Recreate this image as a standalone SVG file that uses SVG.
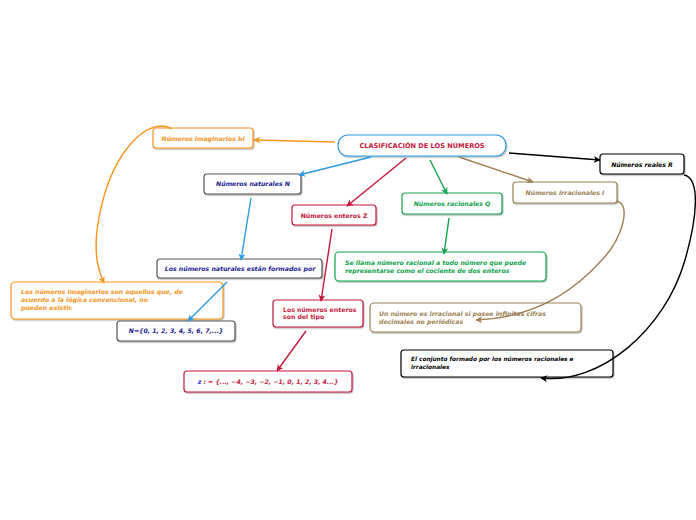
<svg xmlns="http://www.w3.org/2000/svg" width="696" height="520" viewBox="0 0 696 520">
<defs>
<filter id="sh" x="-10%" y="-20%" width="120%" height="150%">
<feDropShadow dx="0.8" dy="1.2" stdDeviation="0.6" flood-color="#000" flood-opacity="0.3"/>
</filter>
<marker id="aOr" viewBox="0 0 10 10" refX="9" refY="5" markerWidth="7" markerHeight="7" markerUnits="userSpaceOnUse" orient="auto"><path d="M0,0 L10,5 L0,10 L3,5 Z" fill="#f7941d"/></marker>
<marker id="aBl" viewBox="0 0 10 10" refX="9" refY="5" markerWidth="7" markerHeight="7" markerUnits="userSpaceOnUse" orient="auto"><path d="M0,0 L10,5 L0,10 L3,5 Z" fill="#2b9be0"/></marker>
<marker id="aCr" viewBox="0 0 10 10" refX="9" refY="5" markerWidth="7" markerHeight="7" markerUnits="userSpaceOnUse" orient="auto"><path d="M0,0 L10,5 L0,10 L3,5 Z" fill="#c4173b"/></marker>
<marker id="aGr" viewBox="0 0 10 10" refX="9" refY="5" markerWidth="7" markerHeight="7" markerUnits="userSpaceOnUse" orient="auto"><path d="M0,0 L10,5 L0,10 L3,5 Z" fill="#0ea34c"/></marker>
<marker id="aTn" viewBox="0 0 10 10" refX="9" refY="5" markerWidth="7" markerHeight="7" markerUnits="userSpaceOnUse" orient="auto"><path d="M0,0 L10,5 L0,10 L3,5 Z" fill="#9c8156"/></marker>
<marker id="aBk" viewBox="0 0 10 10" refX="9" refY="5" markerWidth="7" markerHeight="7" markerUnits="userSpaceOnUse" orient="auto"><path d="M0,0 L10,5 L0,10 L3,5 Z" fill="#000"/></marker>
</defs>
<style>
rect{fill:#fff;stroke-width:1.2;filter:url(#sh)}
text{font-family:"DejaVu Sans",Verdana,sans-serif;font-weight:bold;font-size:6.2px}
.it{font-style:italic}
.c{text-anchor:middle}
.or rect{stroke:#f7941d}.or text{fill:#f7941d}
.gy rect{stroke:#555}.gy text{fill:#1c1c8f}
.cr rect{stroke:#c4173b}.cr text{fill:#c4173b}
.gr rect{stroke:#0ea34c}.gr text{fill:#0ea34c}
.tn rect{stroke:#9c8156}.tn text{fill:#9c8156}
.bk rect{stroke:#000}.bk text{fill:#000}
#conn path{fill:none;stroke-width:1.4}
</style>
<g id="root">
<rect x="338" y="135" width="168" height="21" rx="10" style="stroke:#2b9be0"/>
<text x="422" y="148.3" class="c" style="fill:#c4173b;font-size:6.6px">CLASIFICACIÓN DE LOS NÚMEROS</text>
</g>
<g id="imaginarios" class="or">
<rect x="153" y="128" width="100" height="20" rx="3"/>
<text x="203" y="140.5" class="c it">Números imaginarios bi</text>
</g>
<g id="naturales" class="gy">
<rect x="204" y="174" width="97" height="20" rx="3"/>
<text x="253" y="186.3" class="c it">Números naturales N</text>
</g>
<g id="enteros" class="cr">
<rect x="292" y="205" width="84" height="20" rx="3"/>
<text x="334" y="217.5" class="c">Números enteros Z</text>
</g>
<g id="racionales" class="gr">
<rect x="402" y="193" width="100" height="21" rx="3"/>
<text x="452" y="206" class="c it">Números racionales Q</text>
</g>
<g id="irracionales" class="tn">
<rect x="513" y="182" width="104" height="21" rx="3"/>
<text x="565" y="194.5" class="c it">Números irracionales I</text>
</g>
<g id="reales" class="bk">
<rect x="600" y="154" width="84" height="20" rx="3"/>
<text x="642" y="166.5" class="c it">Números reales R</text>
</g>
<g id="formados" class="gy">
<rect x="157" y="259" width="165" height="19" rx="3"/>
<text x="240" y="270.8" class="c it">Los números naturales están formados por</text>
</g>
<g id="imagdesc" class="or">
<rect x="11" y="282" width="212" height="37" rx="4"/>
<text x="21" y="293.8" class="it">Los números imaginarios son aquellos que, de</text>
<text x="21" y="302" class="it">acuerdo a la lógica convencional, no</text>
<text x="21" y="310.2" class="it">pueden existir.</text>
</g>
<g id="nset" class="gy">
<rect x="117" y="321" width="118" height="20" rx="3"/>
<text x="176" y="333.3" class="c it">N={0, 1, 2, 3, 4, 5, 6, 7,...}</text>
</g>
<g id="racdesc" class="gr">
<rect x="335" y="252" width="211" height="29" rx="4"/>
<text x="345" y="264.5" class="it">Se llama número racional a todo número que puede</text>
<text x="345" y="272.8" class="it">representarse como el cociente de dos enteros</text>
</g>
<g id="tipo" class="cr">
<rect x="273" y="300" width="90" height="27" rx="3"/>
<text x="283" y="311.5">Los números enteros</text>
<text x="283" y="318.5">son del tipo</text>
</g>
<g id="irrdesc" class="tn">
<rect x="370" y="303" width="211" height="29" rx="4"/>
<text x="379" y="315.5" class="it">Un número es irracional si posee infinitas cifras</text>
<text x="379" y="323.8" class="it">decimales no periódicas</text>
</g>
<g id="conjunto" class="bk">
<rect x="401" y="350" width="212" height="27" rx="3"/>
<text x="411" y="361" class="it" style="font-size:5.8px">El conjunto formado por los números racionales e</text>
<text x="411" y="368.5" class="it" style="font-size:5.8px">irracionales</text>
</g>
<g id="zset" class="cr">
<rect x="184" y="371" width="168" height="21" rx="3"/>
<text x="268" y="383.8" class="c it"><tspan style="fill:#2b3fcf">z</tspan> : = {..., −4, −3, −2, −1, 0, 1, 2, 3, 4...}</text>
</g>
<g id="conn">
<path d="M335,142 L254,140" stroke="#f7941d" marker-end="url(#aOr)"/>
<path d="M371,157 L299,175" stroke="#2b9be0" marker-end="url(#aBl)"/>
<path d="M406,158 L347,206" stroke="#c4173b" marker-end="url(#aCr)"/>
<path d="M430,160 L447,194" stroke="#0ea34c" marker-end="url(#aGr)"/>
<path d="M459,157 L533,182" stroke="#9c8156" marker-end="url(#aTn)"/>
<path d="M509,153 L600,160" stroke="#000" marker-end="url(#aBk)"/>
<path d="M172,129 C150,115 108,150 97,230 C94,258 99,272 104,283" stroke="#f7941d" marker-end="url(#aOr)"/>
<path d="M251,198 L241,260" stroke="#2b9be0" marker-end="url(#aBl)"/>
<path d="M227,282 L188,321" stroke="#2b9be0" marker-end="url(#aBl)"/>
<path d="M332,229 L321,301" stroke="#c4173b" marker-end="url(#aCr)"/>
<path d="M306,331 L277,371" stroke="#c4173b" marker-end="url(#aCr)"/>
<path d="M449,218 L444,254" stroke="#0ea34c" marker-end="url(#aGr)"/>
<path d="M617,201 C632,205 622,240 600,262 C570,295 530,318 476,320" stroke="#9c8156" marker-end="url(#aTn)"/>
<path d="M684,175 C700,178 698,215 685,260 C665,330 600,385 541,378" stroke="#000" marker-end="url(#aBk)"/>
</g>
</svg>
